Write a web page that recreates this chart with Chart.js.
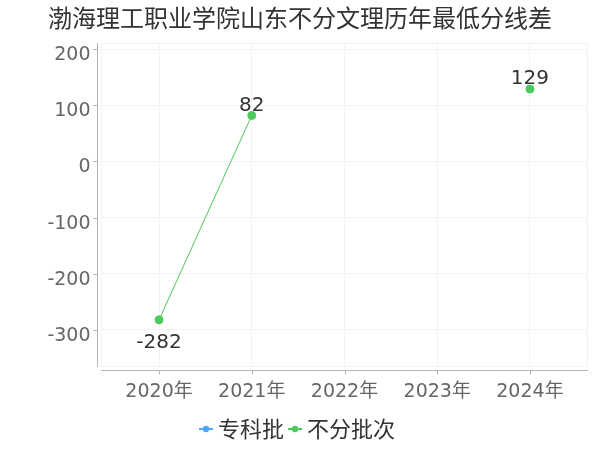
<!DOCTYPE html>
<html>
<head>
<meta charset="utf-8">
<script src="https://cdn.jsdelivr.net/npm/chart.js@4"></script>
<style>
html,body{margin:0;padding:0;background:#fff;}
canvas{display:block;}
</style>
</head>
<body>
<canvas id="c" width="600" height="450"></canvas>
<script>
const titleText = '渤海理工职业学院山东不分文理历年最低分线差';
const years = [2020, 2021, 2022, 2023, 2024];
const categories = ['2020年', '2021年', '2022年', '2023年', '2024年'];
const seriesNames = ['专科批', '不分批次'];
const zhuankeValues = [null, null, null, null, null];
const bufenValues = [-282, 82, null, null, 129];
const yTicks = [-300, -200, -100, 0, 100, 200];

const FONT = '"DejaVu Sans", "Noto Sans CJK SC", sans-serif';
const CJK = '"Noto Sans CJK SC", "DejaVu Sans", sans-serif';
const BLUE = '#4fa6f6';
const GREEN = '#4cc95c';
const GRID = '#f3f3f3';
const AXIS = '#b4b4b4';

function marker(color) {
  const c = document.createElement('canvas');
  c.width = 14; c.height = 8;
  const g = c.getContext('2d');
  g.strokeStyle = color; g.lineWidth = 2;
  g.beginPath(); g.moveTo(0, 4); g.lineTo(14, 4); g.stroke();
  g.fillStyle = color;
  g.beginPath(); g.arc(7, 4, 3.2, 0, Math.PI * 2); g.fill();
  return c;
}

const toPoints = arr => arr.map((v, i) => ({x: years[i], y: v}));

const decor = {
  id: 'decor',
  beforeDatasetsDraw(chart) {
    const {ctx, chartArea: a} = chart;
    ctx.save();
    ctx.strokeStyle = GRID; ctx.lineWidth = 1;
    ctx.strokeRect(a.left + 0.5, a.top + 0.5, a.right - a.left - 1, a.bottom - a.top - 1);
    ctx.strokeStyle = AXIS; ctx.lineWidth = 1;
    const ax = a.left - 3.5;
    ctx.beginPath(); ctx.moveTo(ax, a.top); ctx.lineTo(ax, a.bottom); ctx.stroke();
    const ys = chart.scales.y;
    ctx.font = '19px ' + FONT;
    ctx.fillStyle = '#666';
    ctx.textAlign = 'right';
    ctx.textBaseline = 'alphabetic';
    yTicks.forEach(v => {
      const py = Math.round(ys.getPixelForValue(v)) + 0.5;
      ctx.beginPath(); ctx.moveTo(ax - 4, py); ctx.lineTo(ax, py); ctx.stroke();
      ctx.fillText(String(v), ax - 7, py + 10);
    });
    const ay = a.bottom + 3.5;
    ctx.beginPath(); ctx.moveTo(a.left, ay); ctx.lineTo(a.right, ay); ctx.stroke();
    const xs = chart.scales.x;
    years.forEach(v => {
      const px = Math.round(xs.getPixelForValue(v)) + 0.5;
      ctx.beginPath(); ctx.moveTo(px, ay); ctx.lineTo(px, ay + 4); ctx.stroke();
    });
    ctx.restore();
  },
  afterDatasetsDraw(chart) {
    const {ctx} = chart;
    ctx.save();
    ctx.font = '20px ' + FONT;
    ctx.fillStyle = '#333';
    ctx.textAlign = 'center';
    ctx.textBaseline = 'middle';
    chart.data.datasets.forEach((ds, di) => {
      const meta = chart.getDatasetMeta(di);
      ds.data.forEach((p, i) => {
        if (p.y === null || p.y === undefined) return;
        const el = meta.data[i];
        const dy = p.y < 0 ? 23 : -10;
        ctx.fillText(String(p.y), el.x, el.y + dy);
      });
    });
    ctx.font = '24px ' + CJK;
    ctx.textAlign = 'left';
    ctx.fillText(titleText, 48, 18);
    ctx.restore();
  }
};

new Chart(document.getElementById('c'), {
  type: 'line',
  plugins: [decor],
  data: {
    datasets: [
      {label: seriesNames[0], data: toPoints(zhuankeValues), borderColor: BLUE, backgroundColor: BLUE,
       borderWidth: 1, pointRadius: 4, spanGaps: false},
      {label: seriesNames[1], data: toPoints(bufenValues), borderColor: GREEN, backgroundColor: GREEN,
       borderWidth: 1, pointRadius: 4, pointHoverRadius: 4, spanGaps: false}
    ]
  },
  options: {
    responsive: false,
    animation: false,
    devicePixelRatio: 1,
    layout: {padding: {top: 43, left: 12, right: 12, bottom: 0}},
    plugins: {
      title: {display: false},
      tooltip: {enabled: false},
      legend: {
        position: 'bottom',
        labels: {
          font: {size: 22, family: CJK},
          color: '#333',
          usePointStyle: true,
          pointStyleWidth: 2,
          boxHeight: 8,
          padding: 10,
          generateLabels(chart) {
            return chart.data.datasets.map((ds, i) => ({
              text: ds.label,
              fillStyle: ds.borderColor,
              strokeStyle: ds.borderColor,
              fontColor: '#333',
              pointStyle: marker(ds.borderColor),
              hidden: false,
              datasetIndex: i,
              lineWidth: 0
            }));
          }
        }
      }
    },
    scales: {
      x: {
        type: 'linear',
        min: 2019.374,
        max: 2024.626,
        afterBuildTicks(s) { s.ticks = years.map(v => ({value: v})); },
        afterFit(s) { s.height = 41; },
        grid: {color: GRID, drawTicks: false},
        border: {display: false},
        ticks: {
          padding: 14,
          color: '#666',
          font: {size: 19, family: FONT},
          autoSkip: false,
          maxRotation: 0,
          callback: (v) => categories[years.indexOf(v)]
        }
      },
      y: {
        min: -366,
        max: 211,
        afterBuildTicks(s) { s.ticks = yTicks.map(v => ({value: v})); },
        afterFit(s) { s.width = 89; },
        grid: {color: GRID, drawTicks: false},
        border: {display: false},
        ticks: {display: false}
      }
    }
  }
});
</script>
</body>
</html>
